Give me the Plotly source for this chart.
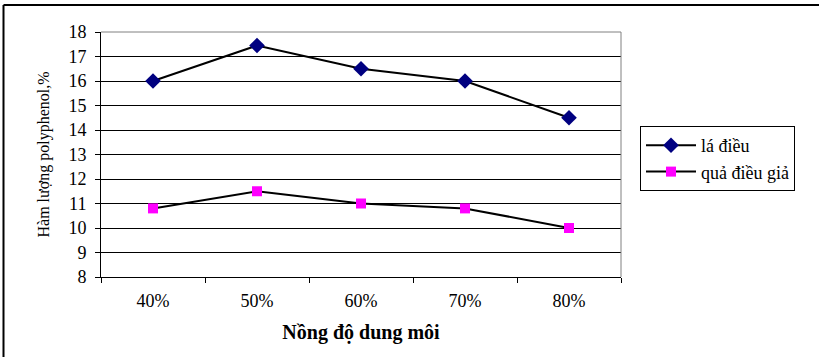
import plotly.graph_objects as go

concentrations = ["40%", "50%", "60%", "70%", "80%"]
la_dieu = [16.0, 17.45, 16.5, 16.0, 14.5]
qua_dieu_gia = [10.8, 11.5, 11.0, 10.8, 10.0]
y_ticks = list(range(8, 19))

W, H = 819, 357
ML, MR, MT, MB = 101, 198, 32, 80
PW, PH = W - ML - MR, H - MT - MB

def px_x(p):
    return (p - ML) / PW

def px_y(p):
    return (H - MB - p) / PH

SERIF = "Liberation Serif"

fig = go.Figure()
fig.add_trace(go.Scatter(
    x=concentrations, y=la_dieu, name="lá điều", mode="lines+markers",
    line=dict(color="black", width=2),
    marker=dict(symbol="diamond", size=12, color="#000080", line=dict(width=0)),
))
fig.add_trace(go.Scatter(
    x=concentrations, y=qua_dieu_gia, name="quả điều giả", mode="lines+markers",
    line=dict(color="black", width=2),
    marker=dict(symbol="square", size=10, color="#FF00FF", line=dict(width=0)),
))

# outer chart frame (left and top edges visible)
fig.add_shape(type="line", xref="paper", yref="paper",
              x0=px_x(3.5), x1=px_x(W + 5), y0=px_y(5), y1=px_y(5),
              line=dict(color="black", width=2))
fig.add_shape(type="line", xref="paper", yref="paper",
              x0=px_x(3.5), x1=px_x(3.5), y0=px_y(5), y1=px_y(H + 5),
              line=dict(color="black", width=2))

fig.update_layout(
    width=W, height=H,
    margin=dict(l=ML, r=MR, t=MT, b=MB),
    paper_bgcolor="white", plot_bgcolor="white",
    font=dict(family=SERIF, color="black", size=17),
    legend=dict(
        x=px_x(640), y=px_y(126), xanchor="left", yanchor="top",
        bordercolor="black", borderwidth=1, bgcolor="white",
        font=dict(family=SERIF, size=18),
        itemwidth=50, tracegroupgap=0,
    ),
    xaxis=dict(
        type="category", range=[-0.5, 4.5],
        tickson="boundaries", ticks="outside", ticklen=5, tickcolor="black",
        ticklabelstandoff=7,
        showline=True, linecolor="black", linewidth=1, mirror=False,
        showgrid=False, zeroline=False,
        tickfont=dict(family=SERIF, size=18),
        title=dict(text="<b>Nồng độ dung môi</b>", font=dict(family=SERIF, size=20), standoff=15),
    ),
    yaxis=dict(
        range=[8, 18], tickvals=y_ticks, ticks="outside", ticklen=5, tickcolor="black",
        ticklabelstandoff=5,
        showline=True, linecolor="black", linewidth=1,
        showgrid=True, gridcolor="black", gridwidth=1, zeroline=False,
        tickfont=dict(family=SERIF, size=18),
        title=dict(text="Hàm lượng polyphenol,%", font=dict(family=SERIF, size=16), standoff=14),
    ),
)

# grey plot-area border on top and right
fig.add_shape(type="line", xref="paper", yref="paper", x0=0, x1=1, y0=1, y1=1,
              line=dict(color="#808080", width=1))
fig.add_shape(type="line", xref="paper", yref="paper", x0=1, x1=1, y0=0, y1=1,
              line=dict(color="#808080", width=1))

fig.write_html("out.html")
